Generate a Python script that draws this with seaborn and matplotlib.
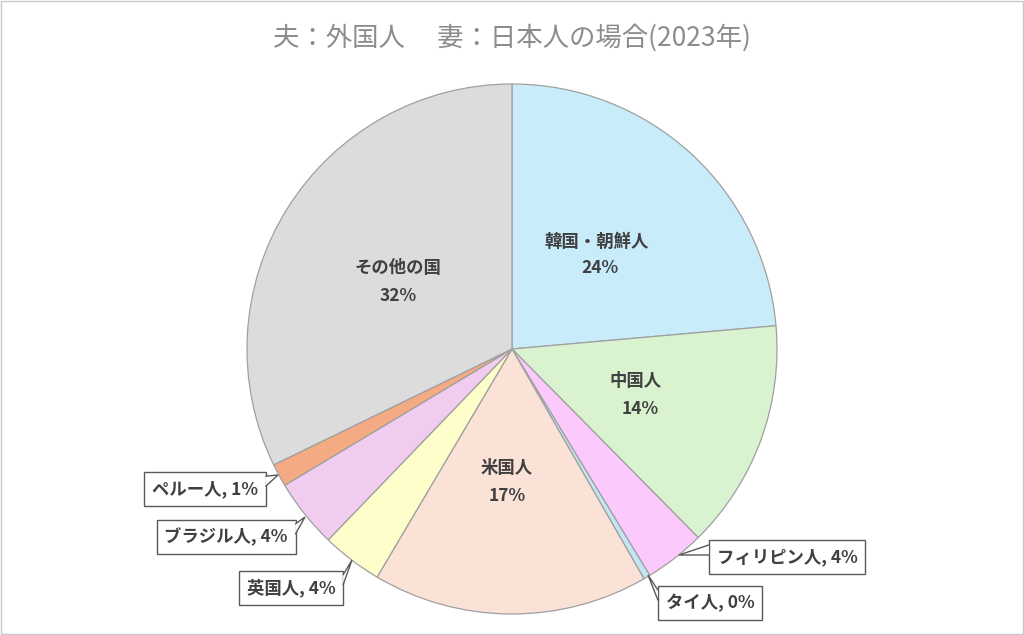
import matplotlib
matplotlib.use("Agg")
import matplotlib.pyplot as plt
from matplotlib.patches import Polygon
import seaborn as sns

categories = ["韓国・朝鮮人", "中国人", "フィリピン人", "タイ人", "米国人", "英国人", "ブラジル人", "ペルー人", "その他の国"]
shares = [23.6, 14.0, 3.7, 0.4, 16.8, 3.7, 4.2, 1.4, 32.2]
pct_labels = ["24%", "14%", "4%", "0%", "17%", "4%", "4%", "1%", "32%"]
colors = ["#C9ECFB", "#D9F2D0", "#FBC9FB", "#C4E6F4", "#FBE2D6", "#FEFECB", "#F0CCEE", "#F4AA82", "#DCDCDC"]
title = "夫：外国人　 妻：日本人の場合(2023年)"

sns.set_theme(style="white")
plt.rcParams['font.family'] = ['Noto Sans CJK JP', 'DejaVu Sans']

W, H = 1024, 635
fig = plt.figure(figsize=(W / 100, H / 100), dpi=100)
fig.patch.set_facecolor("white")
ax = fig.add_axes([0, 0, 1, 1])
R = 265.0
cx, cy = 512.0, 349.0

def px(x, y):
    return ((x - cx) / R, (cy - y) / R)

ax.pie(shares, colors=sns.color_palette(colors), startangle=90, counterclock=False,
       radius=1.0, wedgeprops=dict(edgecolor="#A0A0A0", linewidth=0.9))
ax.set_xlim(-cx / R, (W - cx) / R)
ax.set_ylim(-(H - cy) / R, cy / R)
ax.set_aspect("equal")
ax.axis("off")

txtcol = "#404040"
fs = 12.5
inside = {0: ((597, 242), (600, 268)), 1: ((636, 381), (640, 409)),
          4: ((507, 468), (507, 496)), 8: ((398, 268), (398, 296))}
for i, (p1, p2) in inside.items():
    ax.text(*px(*p1), categories[i], ha="center", va="center", fontsize=fs,
            fontweight="bold", color=txtcol)
    ax.text(*px(*p2), pct_labels[i], ha="center", va="center", fontsize=fs,
            fontweight="bold", color=txtcol)

callouts = {2: ((787, 557), (679, 555)), 3: ((710, 603), (648, 575)),
            5: ((291, 588), (352, 560)), 6: ((226, 537), (305, 517)),
            7: ((205, 489), (278, 475))}
texts = {}
for i, (box, tip) in callouts.items():
    t = ax.text(*px(*box), f"{categories[i]}, {pct_labels[i]}", ha="center", va="center",
                fontsize=fs, fontweight="bold", color=txtcol, zorder=5,
                bbox=dict(boxstyle="square,pad=0.45", fc="white", ec="#595959", lw=1.0))
    texts[i] = t

fig.canvas.draw()
renderer = fig.canvas.get_renderer()
inv = ax.transData.inverted()
for i, (box, tip) in callouts.items():
    bb = texts[i].get_bbox_patch().get_window_extent(renderer)
    tx, ty = ax.transData.transform(px(*tip))
    x0, x1, y0, y1 = bb.x0, bb.x1, bb.y0, bb.y1
    if tx > x1:
        yb = min(max(ty, y0 + 6), y1 - 14)
        b1, b2 = (x1, yb), (x1, yb + 10)
    elif tx < x0:
        yb = min(max(ty, y0 + 6), y1 - 14)
        b1, b2 = (x0, yb), (x0, yb + 10)
    elif ty > y1:
        xb = min(max(tx, x0 + 6), x1 - 16)
        b1, b2 = (xb, y1), (xb + 10, y1)
    else:
        xb = min(max(tx, x0 + 6), x1 - 16)
        b1, b2 = (xb, y0), (xb + 10, y0)
    pts = [inv.transform(p) for p in (b1, (tx, ty), b2)]
    ax.add_patch(Polygon(pts, closed=True, fc="white", ec="none", zorder=6))
    ax.plot([pts[0][0], pts[1][0], pts[2][0]], [pts[0][1], pts[1][1], pts[2][1]],
            color="#595959", lw=1.0, zorder=6, solid_joinstyle="miter")

fig.text(0.5, 1 - 38 / H, title, ha="center", va="center", fontsize=19, color="#8C8C8C")
fig.add_artist(plt.Rectangle((0.001, 0.001), 0.998, 0.997, transform=fig.transFigure,
                             fill=False, ec="#C8C8C8", lw=1.0))
fig.savefig("out.png", dpi=100, facecolor="white")
